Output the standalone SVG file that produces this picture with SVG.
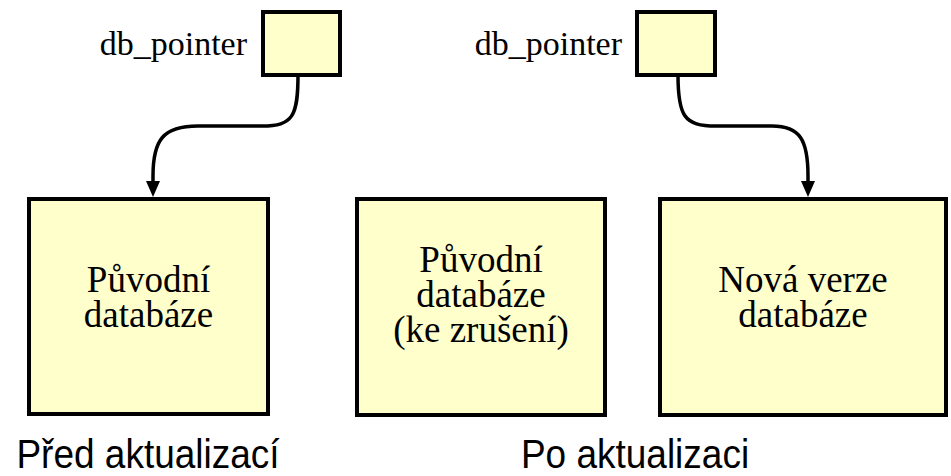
<svg xmlns="http://www.w3.org/2000/svg" width="951" height="476" viewBox="0 0 951 476">
  <style>
    .box { fill: #ffffcc; stroke: #000; stroke-width: 4; }
    .serif { font-family: "Liberation Serif", "Times New Roman", serif; font-size: 37px; fill: #000; text-anchor: middle; }
    .ptr { font-family: "Liberation Serif", "Times New Roman", serif; font-size: 34px; fill: #000; text-anchor: end; }
    .caption { font-family: "Liberation Sans", Arial, sans-serif; font-size: 40px; fill: #000; text-anchor: middle; }
    .link { fill: none; stroke: #000; stroke-width: 3.5; }
  </style>
  <defs>
    <marker id="arrow" markerUnits="userSpaceOnUse" markerWidth="16" markerHeight="14" viewBox="0 0 16 14" refX="5" refY="7" orient="auto">
      <path d="M0,0 L16,7 L0,14 Z" fill="#000"/>
    </marker>
  </defs>

  <!-- before the update -->
  <g id="pointer-before">
    <rect class="box" x="263" y="12" width="77" height="63"/>
    <text class="ptr" x="247" y="55">db_pointer</text>
  </g>
  <g id="db-original">
    <rect class="box" x="29" y="199" width="239" height="215"/>
    <text class="serif" x="148.5" y="292">Původní</text>
    <text class="serif" x="148.5" y="327">databáze</text>
  </g>

  <!-- after the update -->
  <g id="pointer-after">
    <rect class="box" x="637" y="12" width="78" height="63"/>
    <text class="ptr" x="622" y="55">db_pointer</text>
  </g>
  <g id="db-old">
    <rect class="box" x="357" y="199" width="248" height="216"/>
    <text class="serif" x="481" y="272">Původní</text>
    <text class="serif" x="481" y="307">databáze</text>
    <text class="serif" x="481" y="342">(ke zrušení)</text>
  </g>
  <g id="db-new">
    <rect class="box" x="660" y="199" width="286" height="216"/>
    <text class="serif" x="803" y="292">Nová verze</text>
    <text class="serif" x="803" y="327">databáze</text>
  </g>

  <g id="connectors">
    <path class="link" d="M298,75 C298,116 293,126 262,126 L198,126 C163,126 153,140 153,176 L153,186" marker-end="url(#arrow)"/>
    <path class="link" d="M678,75 C678,116 684,126 716,126 L772,126 C800,126 808,140 808,176 L808,186" marker-end="url(#arrow)"/>
  </g>

  <!-- captions use a slightly condensed sans face -->
  <g id="captions">
    <text class="caption" transform="translate(148,468) scale(0.925,1)">Před aktualizací</text>
    <text class="caption" transform="translate(635,468) scale(0.925,1)">Po aktualizaci</text>
  </g>
</svg>
